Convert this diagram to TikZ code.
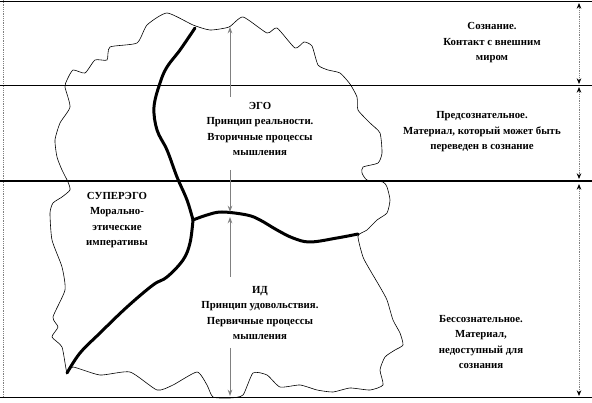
\documentclass[tikz,border=0pt]{standalone}
\usepackage{fontspec}
\setmainfont{Liberation Serif}
\usetikzlibrary{arrows.meta}

\begin{document}
\begin{tikzpicture}[
  x=1pt, y=-1pt,
  lbl/.style={align=center, inner sep=0pt,
              font=\fontsize{10.8}{15.5}\selectfont\bfseries},
  thin line/.style={draw, line width=0.9pt},
  bound/.style={draw, line width=3pt, line cap=round, line join=round},
  psyche/.style={draw, line width=0.6pt},
  probe/.style={draw, gray, line width=0.8pt, -{Stealth[length=2.2mm,width=1.6mm]}},
  span/.style={draw, gray, densely dotted, line width=0.8pt,
               {Stealth[length=2mm,width=1.6mm,black]}-{Stealth[length=2mm,width=1.6mm,black]}}
]
\useasboundingbox (0,0) rectangle (592,403);

% frame and levels
\draw[gray, densely dotted, line width=0.8pt] (3,0) -- (3,397);
\draw[thin line] (0,1.5) -- (592,1.5);
\draw[thin line] (0,85) -- (592,85);
\draw[line width=2.8pt] (0,181) -- (592,181);
\draw[thin line] (0,397) -- (592,397);

% psyche outline
\draw[psyche] plot[smooth cycle, tension=0.35] coordinates {
  (67,373) (62,347) (52,337) (58,327) (53,317) (65,290) (62,267)
  (52,240) (50,213) (53,203) (62,197) (70,190) (68,182) (62,170)
  (57,157) (55,140) (60,123) (70,107) (65,87) (67,80) (73,70)
  (85,73) (95,60) (107,60) (110,47) (137,43) (147,25) (167,13)
  (193,25) (210,30) (229,27) (243,17) (267,33) (277,28) (295,48)
  (304,42) (312,46) (318,65) (328,70) (340,73) (350,84) (357,97)
  (358,110) (370,123) (380,133) (382,153) (378,163) (363,167)
  (362,173) (367,180) (383,182) (387,187) (390,200) (387,213)
  (377,220) (367,230) (358,236) (363,257) (370,270) (380,287)
  (387,300) (393,320) (400,333) (403,345) (395,350) (385,357)
  (380,370) (383,385) (370,390) (350,388) (333,392) (317,390)
  (300,385) (280,387) (267,375) (253,373) (243,395) (230,398)
  (213,397) (207,385) (197,372) (173,385) (157,390) (130,372)
  (100,375) (73,367)};

% instance boundaries
\coordinate (top)   at (195,28);
\coordinate (joint) at (193,220);
\coordinate (tip)   at (67,373);
\coordinate (rim)   at (358,234);
\draw[bound] plot[smooth, tension=0.6] coordinates {
  (top) (180,50) (167,67) (160,83) (154,107) (157,130) (167,150)
  (177,177) (187,200) (joint)};
\draw[bound] plot[smooth, tension=0.6] coordinates {
  (joint) (190,243) (183,260) (167,277) (153,285) (127,307)
  (100,333) (80,353) (tip)};
\draw[bound] plot[smooth, tension=0.6] coordinates {
  (joint) (207,215) (222,212) (247,215) (260,220) (277,230)
  (293,238) (310,242) (337,238) (rim)};

% instance labels
\node[lbl] (ego) at (260,129)
  {ЭГО\\Принцип реальности.\\Вторичные процессы\\мышления};
\node[lbl] (superego) at (117,220)
  {СУПЕРЭГО\\Морально-\\этические\\императивы};
\node[lbl] (id) at (260,313)
  {ИД\\Принцип удовольствия.\\Первичные процессы\\мышления};

% probes
\coordinate (egoTop) at (230,27);
\coordinate (egoMid) at (230,212);
\coordinate (idMid)  at (230,217);
\coordinate (idBot)  at (230,396);
\path[probe] (230,97) -- (egoTop);
\path[probe] (230,170) -- (egoMid);
\path[probe] (230,277) -- (idMid);
\path[probe] (230,348) -- (idBot);

% levels of awareness
\node[lbl] (cons) at (492,43)
  {Сознание.\\Контакт с внешним\\миром};
\node[lbl] (precons) at (482,132)
  {Предсознательное.\\Материал, который может быть\\переведен в сознание};
\node[lbl] (uncons) at (481,342)
  {Бессознательное.\\Материал,\\недоступный для\\сознания};

\coordinate (s0) at (579,3);
\coordinate (s1) at (579,84);
\coordinate (s2) at (579,87);
\coordinate (s3) at (579,179);
\coordinate (s4) at (579,184);
\coordinate (s5) at (579,396);
\path[span] (s0) -- (s1);
\path[span] (s2) -- (s3);
\path[span] (s4) -- (s5);
\end{tikzpicture}
\end{document}
